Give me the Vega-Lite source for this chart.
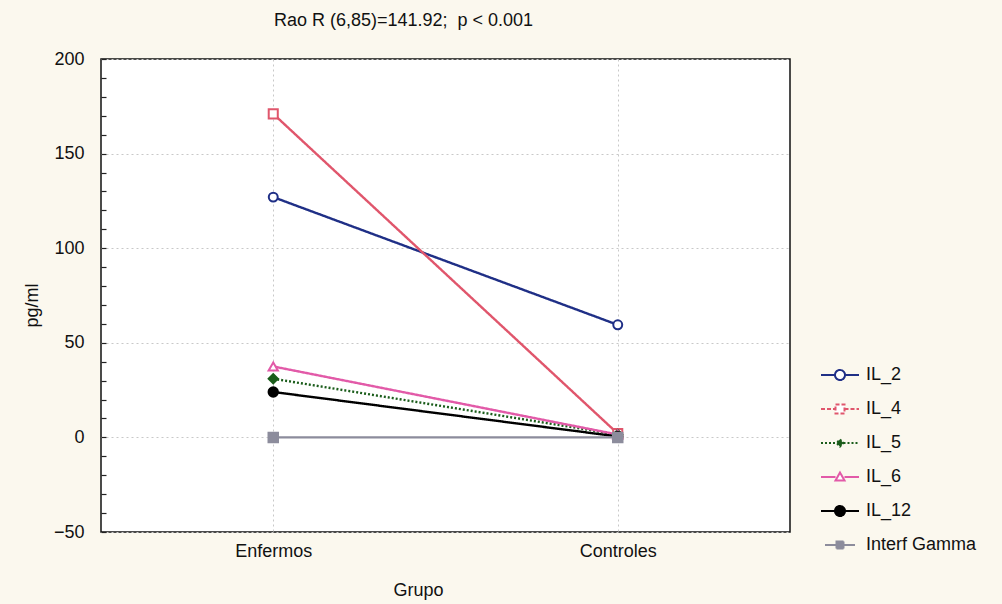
{
  "$schema": "https://vega.github.io/schema/vega-lite/v6.json",
  "width": 689,
  "height": 473,
  "autosize": {"type": "none"},
  "padding": {"left": 101, "top": 59, "right": 212, "bottom": 72},
  "background": "#fbf8ee",
  "title": {"text": "Rao R (6,85)=141.92;\u00a0 p < 0.001", "fontSize": 18, "font": "Liberation Sans", "fontWeight": "normal", "color": "#111111", "dx": -42, "offset": 20},
  "config": {
    "view": {"fill": "#ffffff", "stroke": "#111111", "strokeWidth": 1.5},
    "font": "Liberation Sans"
  },
  "data": {
    "values": [
      {"Grupo": "Enfermos", "Serie": "IL_2", "Marca": "IL_2", "valor": 127},
      {"Grupo": "Controles", "Serie": "IL_2", "Marca": "IL_2", "valor": 59.5},
      {"Grupo": "Enfermos", "Serie": "IL_4", "Marca": "IL_4", "valor": 171},
      {"Grupo": "Controles", "Serie": "IL_4", "Marca": "IL_4", "valor": 2},
      {"Grupo": "Enfermos", "Serie": "IL_5", "Marca": "IL_5", "valor": 31},
      {"Grupo": "Controles", "Serie": "IL_5", "Marca": "IL_5", "valor": 1.5},
      {"Grupo": "Enfermos", "Serie": "IL_6", "Marca": "IL_6", "valor": 37.5},
      {"Grupo": "Controles", "Serie": "IL_6", "Marca": "IL_6", "valor": 1.5},
      {"Grupo": "Enfermos", "Serie": "IL_12", "Marca": "IL_12", "valor": 24},
      {"Grupo": "Controles", "Serie": "IL_12", "Marca": "IL_12", "valor": 0.5},
      {"Grupo": "Enfermos", "Serie": "Interf Gamma", "Marca": "Interf Gamma", "valor": 0},
      {"Grupo": "Controles", "Serie": "Interf Gamma", "Marca": "Interf Gamma", "valor": 0}
    ]
  },
  "encoding": {
    "x": {
      "field": "Grupo", "type": "nominal", "sort": ["Enfermos", "Controles"],
      "scale": {"type": "point", "padding": 0.5},
      "axis": {"labelAngle": 0, "labelFontSize": 18, "labelColor": "#111111", "labelPadding": 10, "ticks": false, "domain": false, "grid": true, "gridDash": [2, 3], "gridColor": "#c8c8c8", "title": "Grupo", "titleFontSize": 18, "titleFontWeight": "normal", "titleColor": "#111111", "titleX": 317, "titleY": 58, "titleBaseline": "middle"}
    }
  },
  "layer": [
    {
      "mark": {"type": "line", "strokeWidth": 2.4},
      "encoding": {
        "y": {
          "field": "valor", "type": "quantitative", "scale": {"domain": [-50, 200], "nice": false, "zero": false},
          "axis": {"values": [-50, 0, 50, 100, 150, 200], "labelFontSize": 18, "labelColor": "#111111", "labelPadding": 17, "ticks": false, "domain": false, "grid": true, "gridDash": [2, 3], "gridColor": "#c8c8c8", "title": "pg/ml", "titleFontSize": 18, "titleFontWeight": "normal", "titleColor": "#111111", "titleX": -69, "titleY": 246, "titleAlign": "center", "titleBaseline": "middle"}
        },
        "stroke": {
          "field": "Marca", "type": "nominal",
          "scale": {"domain": ["IL_2", "IL_4", "IL_5", "IL_6", "IL_12", "Interf Gamma"], "range": ["#1f2f86", "#e0566c", "#1a5c1a", "#e25aa8", "#000000", "#8c8c9c"]},
          "legend": null
        },
        "strokeDash": {
          "field": "Marca", "type": "nominal",
          "scale": {"domain": ["IL_2", "IL_4", "IL_5", "IL_6", "IL_12", "Interf Gamma"], "range": [[1, 0], [1, 0], [2, 2], [1, 0], [1, 0], [1, 0]]},
          "legend": null
        }
      }
    },
    {
      "mark": {"type": "point", "strokeWidth": 2, "opacity": 1},
      "encoding": {
        "y": {
          "field": "valor", "type": "quantitative", "scale": {"domain": [-50, 200], "nice": false, "zero": false},
          "axis": {"orient": "left", "values": [-50, -40, -30, -20, -10, 0, 10, 20, 30, 40, 50, 60, 70, 80, 90, 100, 110, 120, 130, 140, 150, 160, 170, 180, 190, 200], "labels": false, "ticks": true, "tickSize": -5, "tickColor": "#222222", "tickWidth": 1.2, "domain": false, "grid": false, "title": null}
        },
        "stroke": {
          "field": "Marca", "type": "nominal",
          "scale": {"domain": ["IL_2", "IL_4", "IL_5", "IL_6", "IL_12", "Interf Gamma"], "range": ["#1f2f86", "#e0566c", "#1a5c1a", "#e25aa8", "#000000", "#8c8c9c"]},
          "legend": null
        },
        "fill": {
          "field": "Marca", "type": "nominal",
          "scale": {"domain": ["IL_2", "IL_4", "IL_5", "IL_6", "IL_12", "Interf Gamma"], "range": ["#ffffff", "#ffffff", "#1a5c1a", "#ffffff", "#000000", "#8c8c9c"]},
          "legend": null
        },
        "shape": {
          "field": "Marca", "type": "nominal",
          "scale": {"domain": ["IL_2", "IL_4", "IL_5", "IL_6", "IL_12", "Interf Gamma"], "range": ["circle", "square", "diamond", "triangle-up", "circle", "square"]},
          "legend": null
        },
        "size": {
          "field": "Marca", "type": "nominal",
          "scale": {"domain": ["IL_2", "IL_4", "IL_5", "IL_6", "IL_12", "Interf Gamma"], "range": [80, 90, 45, 70, 80, 80]},
          "legend": null
        }
      }
    },
    {
      "mark": {"type": "point", "strokeWidth": 2, "opacity": 0, "filled": false},
      "encoding": {
        "y": {"field": "valor", "type": "quantitative", "scale": {"domain": [-50, 200], "nice": false, "zero": false}, "axis": null},
        "color": {
          "field": "Serie", "type": "nominal",
          "scale": {"domain": ["IL_2", "IL_4", "IL_5", "IL_6", "IL_12", "Interf Gamma"], "range": ["#1f2f86", "#e0566c", "#1a5c1a", "#e25aa8", "#000000", "#8c8c9c"]},
          "legend": {
            "orient": "none", "legendX": 728, "legendY": 305, "title": null,
            "labelFontSize": 18, "labelColor": "#111111", "labelFont": "Liberation Sans",
            "symbolSize": 400, "labelOffset": 15, "rowPadding": 14, "symbolStrokeWidth": 2, "symbolOpacity": 1
          }
        },
        "fill": {
          "field": "Serie", "type": "nominal",
          "scale": {"domain": ["IL_2", "IL_4", "IL_5", "IL_6", "IL_12", "Interf Gamma"], "range": ["#ffffff", "#ffffff", "#1a5c1a", "#ffffff", "#000000", "#8c8c9c"]}
        },
        "shape": {
          "field": "Serie", "type": "nominal",
          "scale": {"domain": ["IL_2", "IL_4", "IL_5", "IL_6", "IL_12", "Interf Gamma"], "range": [
            "M-1.9,0L-0.5,0M0.5,0L1.9,0M0.5,0A0.5,0.5,0,1,1,-0.5,0A0.5,0.5,0,1,1,0.5,0Z",
            "M-1.9,0L-0.45,0M0.45,0L1.9,0M-0.45,-0.45L0.45,-0.45L0.45,0.45L-0.45,0.45Z",
            "M-1.9,0L-0.35,0M0.35,0L1.9,0M0,-0.35L0.35,0L0,0.35L-0.35,0Z",
            "M-1.9,0L-0.45,0M0.45,0L1.9,0M0,-0.45L0.45,0.35L-0.45,0.35Z",
            "M-1.9,0L-0.5,0M0.5,0L1.9,0M0.5,0A0.5,0.5,0,1,1,-0.5,0A0.5,0.5,0,1,1,0.5,0Z",
            "M-1.5,0L-0.35,0M0.35,0L1.5,0M-0.35,-0.35L0.35,-0.35L0.35,0.35L-0.35,0.35Z"
          ]}
        },
        "strokeDash": {
          "field": "Serie", "type": "nominal",
          "scale": {"domain": ["IL_2", "IL_4", "IL_5", "IL_6", "IL_12", "Interf Gamma"], "range": [[1, 0], [4, 2], [2, 2], [1, 0], [1, 0], [1, 0]]}
        }
      }
    }
  ],
  "resolve": {
    "axis": {"y": "independent"},
    "scale": {"fill": "independent", "shape": "independent", "strokeDash": "independent", "stroke": "independent", "size": "independent", "color": "independent"},
    "legend": {"fill": "independent", "shape": "independent", "strokeDash": "independent", "stroke": "independent", "size": "independent", "color": "independent"}
  }
}
